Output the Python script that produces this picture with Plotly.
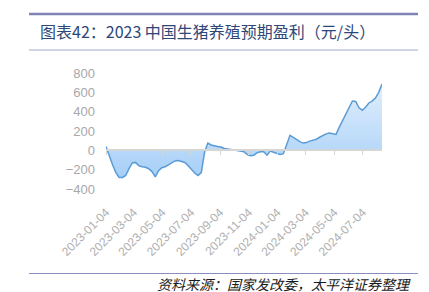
import pandas as pd
import plotly.graph_objects as go

# ---- data ----
start_date = "2023-01-04"
n_weeks = 85
dates = pd.date_range(start_date, periods=n_weeks, freq="7D")
profit = [
    40, -60, -150, -230, -280, -280, -260, -190, -130, -125,
    -160, -170, -175, -190, -220, -275, -210, -180, -170, -150,
    -130, -110, -105, -115, -125, -160, -200, -235, -260, -230,
    -20, 75, 55, 45, 40, 35, 20, 15, 10, 5,
    -5, -10, -15, -45, -55, -50, -25, -15, -15, -50,
    -8, -20, -35, -42, -35, 60, 155, 135, 110, 90,
    75, 80, 95, 105, 115, 135, 155, 170, 180, 175,
    165, 240, 310, 380, 450, 510, 505, 440, 415, 445,
    490, 510, 540, 600, 685,
]
tick_dates = ["2023-01-04", "2023-03-04", "2023-05-04", "2023-07-04", "2023-09-04",
              "2023-11-04", "2024-01-04", "2024-03-04", "2024-05-04", "2024-07-04"]
y_ticks = [-400, -200, 0, 200, 400, 600, 800]
y_min, y_max = -400, 800

title_text = "图表42：2023 中国生猪养殖预期盈利（元/头）"
source_text = "资料来源：国家发改委，太平洋证券整理"

# ---- layout geometry (pixels) ----
W, H = 429, 292
L, R, T, B = 106, 47, 73, 103
PW, PH = W - L - R, H - T - B

def px_x(p):
    return (p - L) / PW

def px_y(p):
    return (H - B - p) / PH

fig = go.Figure()
fig.add_trace(go.Scatter(
    x=dates, y=profit, mode="lines", fill="tozeroy",
    line=dict(color="#5b9bd5", width=1.5),
    fillgradient=dict(type="vertical",
                      colorscale=[[0, "#a6cff8"], [1, "#e0eefc"]]),
    hoverinfo="skip", showlegend=False,
))
fig.add_trace(go.Scatter(
    x=dates, y=profit, xaxis="x2", mode="lines", line=dict(width=0),
    hoverinfo="skip", showlegend=False,
))

y_font = dict(family="Liberation Sans, Arial", size=13, color="#a8a8a8")
x_font = dict(family="Liberation Sans, Arial", size=12, color="#b0b0b0")

fig.update_layout(
    width=W, height=H,
    margin=dict(l=L, r=R, t=T, b=B, pad=0),
    paper_bgcolor="white", plot_bgcolor="white",
    xaxis=dict(
        type="date", range=[dates[0], dates[-1]],
        tickvals=tick_dates, ticktext=tick_dates, tickangle=-45,
        showgrid=False, zeroline=False, showline=False, ticks="",
        tickfont=x_font, ticklabelstandoff=13,
    ),
    xaxis2=dict(
        type="date", range=[dates[0], dates[-1]], overlaying="x",
        anchor="free", position=(0 - y_min) / (y_max - y_min),
        tickvals=tick_dates, showticklabels=False,
        showgrid=False, zeroline=False,
        showline=True, linecolor="#d6d6d6", linewidth=2,
        ticks="outside", ticklen=4, tickcolor="#d6d6d6", tickwidth=1,
    ),
    yaxis=dict(
        range=[y_min, y_max], tickvals=y_ticks,
        showgrid=False, zeroline=False, showline=False, ticks="",
        tickfont=y_font, ticklabelstandoff=10,
    ),
    title=dict(
        text=title_text, x=40 / W, xanchor="left", xref="container",
        y=1 - 32.5 / H, yanchor="middle", yref="container",
        font=dict(family="Noto Sans CJK SC", size=16, color="#2e4778"),
    ),
)

shapes = [
    dict(type="line", xref="paper", yref="paper", x0=px_x(29), x1=px_x(418),
         y0=px_y(14), y1=px_y(14), line=dict(color="#7f83b5", width=2.5)),
    dict(type="line", xref="paper", yref="paper", x0=px_x(29), x1=px_x(418),
         y0=px_y(50), y1=px_y(50), line=dict(color="#a3a7cf", width=1)),
    dict(type="line", xref="paper", yref="paper", x0=px_x(29), x1=px_x(418),
         y0=px_y(273.5), y1=px_y(273.5), line=dict(color="#8a8ebd", width=1)),
]
fig.update_layout(shapes=shapes)

fig.add_annotation(
    text=source_text, xref="paper", yref="paper",
    x=px_x(413), y=px_y(283.5), xanchor="right", yanchor="middle",
    showarrow=False,
    font=dict(family="Noto Sans CJK SC", size=14, color="#1a1a1a", style="italic"),
)

fig.write_html("out.html")
